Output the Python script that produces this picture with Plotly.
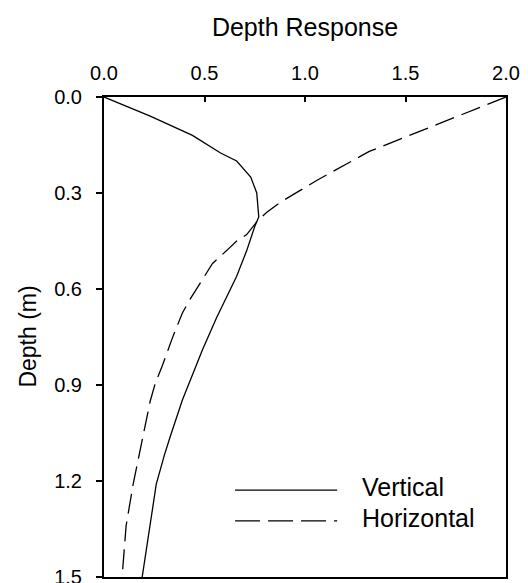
import plotly.graph_objects as go

# depth (m) and response values
vertical_depth = [0.0, 0.06, 0.12, 0.175, 0.2, 0.25, 0.3, 0.375, 0.405, 0.48, 0.56,
                  0.61, 0.69, 0.79, 0.885, 0.947, 1.06, 1.12, 1.21, 1.33, 1.5]
vertical_resp = [0.0, 0.23, 0.44, 0.58, 0.66, 0.73, 0.76, 0.77, 0.75, 0.71, 0.66,
                 0.62, 0.56, 0.49, 0.43, 0.39, 0.33, 0.30, 0.26, 0.23, 0.19]

horizontal_depth = [0.0, 0.04, 0.125, 0.17, 0.26, 0.31, 0.33, 0.36, 0.39, 0.43, 0.45,
                    0.48, 0.52, 0.57, 0.63, 0.675, 0.745, 0.84, 0.895, 0.95,
                    1.06, 1.1, 1.21, 1.34, 1.5]
horizontal_resp = [2.0, 1.84, 1.49, 1.32, 1.06, 0.93, 0.875, 0.81, 0.76, 0.71, 0.66,
                   0.61, 0.54, 0.49, 0.43, 0.39, 0.345, 0.29, 0.255, 0.23,
                   0.195, 0.18, 0.145, 0.11, 0.09]

x_ticks = [0.0, 0.5, 1.0, 1.5, 2.0]
y_ticks = [0.0, 0.3, 0.6, 0.9, 1.2, 1.5]

FONT = "Liberation Sans, Arial, sans-serif"

fig = go.Figure()
fig.add_trace(go.Scatter(x=vertical_resp, y=vertical_depth, mode="lines",
                         name="Vertical", line=dict(color="black", width=1.3)))
fig.add_trace(go.Scatter(x=horizontal_resp, y=horizontal_depth, mode="lines",
                         name="Horizontal",
                         line=dict(color="black", width=1.3, dash="20px,8px")))

# hand-drawn legend (long line samples like the original)
legend_items = [("Vertical", "solid", 0.181), ("Horizontal", "25px,8px", 0.117)]
for label, dash, ypos in legend_items:
    fig.add_shape(type="line", xref="paper", yref="paper",
                  x0=0.326, x1=0.58, y0=ypos, y1=ypos,
                  line=dict(color="black", width=1.3, dash=dash))
    fig.add_annotation(text=label, xref="paper", yref="paper", x=0.637, y=ypos + 0.006,
                       xanchor="left", yanchor="middle", showarrow=False,
                       font=dict(size=25, color="black", family=FONT))

# y axis title as an annotation so it sits where the original has it
fig.add_annotation(text="Depth (m)", xref="paper", yref="paper", x=-0.19, y=0.5,
                   xanchor="center", yanchor="middle", textangle=-90, showarrow=False,
                   font=dict(size=23, color="black", family=FONT))

fig.update_xaxes(side="top", range=[0, 2.0], tickvals=x_ticks, tickformat=".1f",
                 ticks="inside", ticklen=5, tickwidth=2, tickcolor="black",
                 ticklabelstandoff=7, ticklabeloverflow="allow",
                 showline=True, linewidth=2, linecolor="black", mirror=True,
                 showgrid=False, zeroline=False,
                 tickfont=dict(size=20, color="black", family=FONT),
                 title=dict(text="Depth Response", standoff=18,
                            font=dict(size=25, color="black", family=FONT)))
fig.update_yaxes(range=[1.5, 0], tickvals=y_ticks, tickformat=".1f",
                 ticks="outside", ticklen=6, tickwidth=2, tickcolor="black",
                 ticklabelstandoff=10, ticklabeloverflow="allow",
                 showline=True, linewidth=2, linecolor="black", mirror=True,
                 showgrid=False, zeroline=False,
                 tickfont=dict(size=20, color="black", family=FONT))

# the page body adds an 8px offset, so the figure is sized and placed to match
fig.update_layout(width=520, height=575, showlegend=False,
                  plot_bgcolor="white", paper_bgcolor="white",
                  margin=dict(l=96, r=22, t=89, b=6, autoexpand=False),
                  font=dict(family=FONT, color="black"))

fig.write_html("out.html")
